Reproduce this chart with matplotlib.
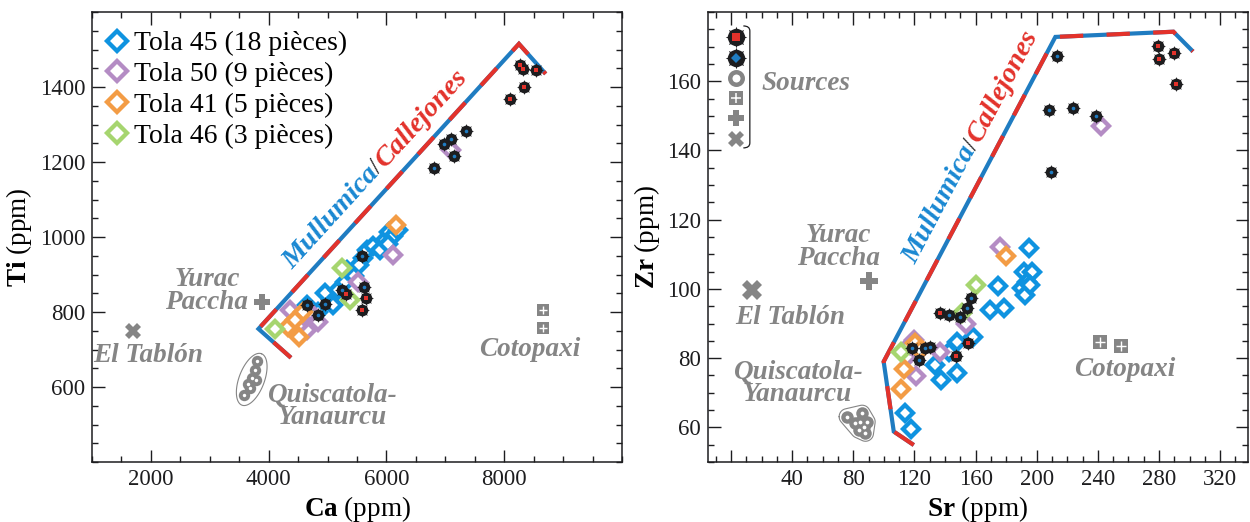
import numpy as np
import matplotlib
matplotlib.use("Agg")
import matplotlib.pyplot as plt
import matplotlib.transforms as mtransforms
from matplotlib.lines import Line2D
from matplotlib.legend_handler import HandlerTuple
from matplotlib.patches import PathPatch
from matplotlib.path import Path
from matplotlib.ticker import MultipleLocator

plt.rcParams['font.family'] = ['Liberation Serif', 'DejaVu Serif']
plt.rcParams['mathtext.fontset'] = 'custom'
plt.rcParams['mathtext.rm'] = 'Liberation Serif'
plt.rcParams['mathtext.bf'] = 'Liberation Serif:bold'
plt.rcParams['mathtext.it'] = 'Liberation Serif:italic'

# ---------------- Panel 1 : Ca vs Ti (ppm) ----------------
t45_ca = [4651, 4837, 4956, 5092, 5177, 5296, 5330, 5449, 5602, 5670, 5771, 5890, 5975, 6043, 6111, 6196, 6026, 5534]
t45_ti = [819, 800, 851, 819, 859, 880, 912, 896, 944, 965, 976, 965, 992, 1013, 1003, 1019, 981, 925]
t50_ca = [4362, 4566, 4837, 4651, 4498, 4702, 5517, 6111, 7096]
t50_ti = [805, 784, 773, 752, 763, 800, 880, 952, 1232]
t41_ca = [4328, 4515, 4583, 4447, 6162]
t41_ti = [760, 733, 800, 779, 1032]
t46_ca = [4107, 5245, 5381]
t46_ti = [755, 917, 832]
mul_ca = [6813, 6982, 7096, 7147, 7351, 5585, 5619, 5245, 4956, 4651, 4837]
mul_ti = [1183, 1247, 1261, 1217, 1283, 949, 867, 859, 821, 819, 792]
cal_ca = [8268, 8313, 8540, 8341, 8098, 5313, 5653, 5585]
cal_ti = [1459, 1447, 1445, 1399, 1367, 848, 837, 805]
quis_ca = [3802, 3768, 3717, 3649, 3785, 3581, 3683]
quis_ti = [669, 645, 624, 608, 619, 579, 597]
coto_ca = [8658, 8658]
coto_ti = [805, 757]
yurac_ca = [3887]
yurac_ti = [827]
tablon_ca = [1696]
tablon_ti = [749]
bound_ca = [4379, 3827, 8250, 8704]
bound_ti = [678, 755, 1515, 1435]

# ---------------- Panel 2 : Sr vs Zr (ppm) ----------------
t45_sr = [195.2, 191.5, 197.0, 193.7, 190.4, 192.6, 195.9, 174.8, 169.7, 178.4, 158.4, 147.9, 142.4, 133.7, 137.7, 147.9, 114.1, 117.9]
t45_zr = [111.8, 105.0, 105.0, 102.1, 100.2, 98.3, 101.2, 100.9, 93.9, 94.6, 86.0, 84.8, 81.9, 78.0, 73.7, 75.6, 64.1, 59.5]
t50_sr = [242.1, 176.3, 154.0, 137.0, 119.6, 121.3, 115.2, 123.9, 117.4]
t50_zr = [147.0, 112.1, 89.8, 81.9, 85.3, 74.9, 80.4, 82.4, 83.8]
t41_sr = [180.0, 113.4, 111.4, 120.7, 123.5]
t41_zr = [109.5, 76.8, 71.0, 84.3, 82.5]
t46_sr = [160.5, 111.5, 151.2]
t46_zr = [101.2, 81.9, 93.0]
mul_sr = [213.5, 207.8, 223.9, 238.7, 209.6, 157.3, 154.5, 149.6, 142.9, 118.5, 130.5, 127.2, 123.3]
mul_zr = [167.3, 151.7, 152.4, 150.0, 133.9, 97.3, 94.6, 91.8, 92.5, 82.9, 83.2, 83.0, 79.5]
cal_sr = [279.1, 280.0, 289.6, 291.4, 137.0, 154.9, 147.3]
cal_zr = [170.3, 166.5, 168.1, 159.2, 93.0, 84.3, 80.6]
quis_sr = [76.0, 85.8, 86.9, 83.6, 89.1, 84.7, 88.0, 81.4]
quis_zr = [63.1, 64.1, 60.2, 59.2, 61.6, 61.6, 58.3, 61.2]
coto_sr = [241.3, 255.2]
coto_zr = [84.8, 83.4]
yurac_sr = [90.6]
yurac_zr = [102.2]
tablon_sr = [13.9]
tablon_zr = [99.6]
bound_sr = [119.6, 106.5, 99.9, 212.2, 289.4, 302.2]
bound_zr = [54.9, 58.8, 79.0, 172.8, 174.3, 168.6]

legend_labels = ['Tola 45 (18 pièces)', 'Tola 50 (9 pièces)', 'Tola 41 (5 pièces)', 'Tola 46 (3 pièces)']

# ---------------- styles ----------------
BLUE45 = '#0f93e0'
PURP = '#b48cc4'
ORNG = '#f39c45'
GRN = '#a6d56f'
GRAY = '#858585'
INK = '#1d1d1f'
LRED = '#e3322b'
LBLUE = '#1f7cc1'
TBLUE = '#1a88d2'

fig = plt.figure(figsize=(12.5, 5.22), dpi=100)
ax1 = fig.add_axes([92 / 1250, 60 / 522, 530 / 1250, 450 / 522])
ax2 = fig.add_axes([707.7 / 1250, 60 / 522, 540.3 / 1250, 450 / 522])

ax1.set_xlim(1000, 10000)
ax1.set_ylim(400, 1600)
ax2.set_xlim(-15.2, 338.2)
ax2.set_ylim(50, 180)


def style(ax):
    for s in ax.spines.values():
        s.set_linewidth(1.1)
        s.set_color(INK)
    ax.tick_params(which='both', direction='in', top=True, right=True,
                   colors=INK, labelsize=16.5, width=1.0)
    ax.tick_params(which='major', length=9, pad=5)
    ax.tick_params(which='minor', length=4.5)


style(ax1)
style(ax2)
ax1.set_xticks([2000, 4000, 6000, 8000])
ax1.xaxis.set_minor_locator(MultipleLocator(500))
ax1.set_yticks([600, 800, 1000, 1200, 1400])
ax1.yaxis.set_minor_locator(MultipleLocator(50))
ax2.set_xticks([0, 40, 80, 120, 160, 200, 240, 280, 320])
ax2.set_xticklabels(['', '40', '80', '120', '160', '200', '240', '280', '320'])
ax2.xaxis.set_minor_locator(MultipleLocator(10))
ax2.set_yticks([60, 80, 100, 120, 140, 160])
ax2.yaxis.set_minor_locator(MultipleLocator(5))

ax1.set_xlabel(r'$\mathbf{Ca}$ (ppm)', fontsize=19.5, labelpad=3)
ax1.set_ylabel(r'$\mathbf{Ti}$ (ppm)', fontsize=19.5, labelpad=4)
ax2.set_xlabel(r'$\mathbf{Sr}$ (ppm)', fontsize=19.5, labelpad=3)
ax2.set_ylabel(r'$\mathbf{Zr}$ (ppm)', fontsize=19.5, labelpad=3)


def boundary(ax, x, y):
    ax.plot(x, y, color=LBLUE, lw=3.0, solid_capstyle='butt', solid_joinstyle='miter', zorder=2)
    ax.plot(x, y, color=LRED, lw=3.0, ls=(0, (5.6, 5.6)), dash_capstyle='butt',
            dash_joinstyle='miter', zorder=2)


def diamonds(ax, x, y, color, label):
    return ax.plot(x, y, ls='none', marker='D', ms=8.3, mfc='white', mec=color,
                   mew=3.1, label=label, zorder=3)[0]


def gears(ax, x, y, cc, cm):
    ax.plot(x, y, ls='none', marker='o', ms=8.4, color=INK, mew=0, zorder=4)
    ax.plot(x, y, ls='none', marker=(8, 1, 0), ms=10.8, color=INK, mew=0, zorder=4)
    ax.plot(x, y, ls='none', marker=cm, ms=2.6, color=cc, mew=0, zorder=5)


def quis(ax, x, y, ms):
    ax.plot(x, y, ls='none', marker='o', ms=ms, color=GRAY, mew=0, zorder=3)
    ax.plot(x, y, ls='none', marker='o', ms=ms * 0.3, color='white', mew=0, zorder=3)


def coto(ax, x, y, ms):
    ax.plot(x, y, ls='none', marker='s', ms=ms, color=GRAY, mew=0, zorder=3)
    ax.plot(x, y, ls='none', marker='+', ms=ms * 0.75, mec='white', mew=1.0, zorder=3)


def convex_hull(P):
    P = sorted(map(tuple, P))

    def cross(o, a, b):
        return (a[0] - o[0]) * (b[1] - o[1]) - (a[1] - o[1]) * (b[0] - o[0])
    lower = []
    for p in P:
        while len(lower) >= 2 and cross(lower[-2], lower[-1], p) <= 0:
            lower.pop()
        lower.append(p)
    upper = []
    for p in reversed(P):
        while len(upper) >= 2 and cross(upper[-2], upper[-1], p) <= 0:
            upper.pop()
        upper.append(p)
    return np.array(lower[:-1] + upper[:-1])


def outline(ax, x, y, pad_px, mode):
    pts = ax.transData.transform(np.column_stack([x, y]))
    if mode == 'ellipse':
        c = pts.mean(0)
        d = pts - c
        w, v = np.linalg.eigh(d.T @ d)
        major, minor = v[:, 1], v[:, 0]
        a = np.abs(d @ major).max() + pad_px
        b = np.abs(d @ minor).max() + pad_px
        th = np.linspace(0, 2 * np.pi, 120)
        curve = c + np.outer(a * np.cos(th), major) + np.outer(b * np.sin(th), minor)
    else:
        ang = np.linspace(0, 2 * np.pi, 36, endpoint=False)
        ring = np.column_stack([np.cos(ang), np.sin(ang)]) * pad_px
        cloud = (pts[:, None, :] + ring[None]).reshape(-1, 2)
        h = convex_hull(cloud)
        curve = np.vstack([h, h[:1]])
    data = ax.transData.inverted().transform(curve)
    ax.plot(data[:, 0], data[:, 1], color=GRAY, lw=0.8, zorder=2)


def boundary_label(ax, p0, p1, along_px, off_px, size):
    r = fig.canvas.get_renderer()
    d0 = ax.transData.transform(p0)
    d1 = ax.transData.transform(p1)
    u = (d1 - d0) / np.hypot(*(d1 - d0))
    n = np.array([-u[1], u[0]])
    ang = np.degrees(np.arctan2(u[1], u[0]))
    pos = d0 + u * along_px + n * off_px
    parts = [('Mullumica', TBLUE, 'bold', 'italic', size),
             ('/', INK, 'normal', 'normal', size * 0.9),
             ('Callejones', LRED, 'bold', 'italic', size)]
    for s, c, w, st, fs in parts:
        t = ax.text(pos[0], pos[1], s, transform=mtransforms.IdentityTransform(),
                    color=c, fontsize=fs, fontweight=w, fontstyle=st, rotation=0,
                    rotation_mode='anchor', ha='left', va='baseline', zorder=6)
        wpx = t.get_window_extent(r).width
        t.set_rotation(ang)
        pos = pos + u * wpx


def src_label(ax, x, y, s):
    ax.text(x, y, s, color=GRAY, fontsize=19.5, fontweight='bold', fontstyle='italic',
            ha='center', va='center', linespacing=0.88, zorder=6)


# ---------------- Panel 1 drawing ----------------
boundary(ax1, bound_ca, bound_ti)
h45 = diamonds(ax1, t45_ca, t45_ti, BLUE45, legend_labels[0])
h50 = diamonds(ax1, t50_ca, t50_ti, PURP, legend_labels[1])
h41 = diamonds(ax1, t41_ca, t41_ti, ORNG, legend_labels[2])
h46 = diamonds(ax1, t46_ca, t46_ti, GRN, legend_labels[3])
gears(ax1, mul_ca, mul_ti, LBLUE, 'o')
gears(ax1, cal_ca, cal_ti, LRED, 's')
quis(ax1, quis_ca, quis_ti, 8.2)
outline(ax1, quis_ca, quis_ti, 8.5, 'ellipse')
coto(ax1, coto_ca, coto_ti, 8.5)
ax1.plot(yurac_ca, yurac_ti, ls='none', marker='P', ms=11, color=GRAY, mew=0, zorder=3)
ax1.plot(tablon_ca, tablon_ti, ls='none', marker='X', ms=11, color=GRAY, mew=0, zorder=3)

src_label(ax1, 2953, 856, 'Yurac\nPaccha')
src_label(ax1, 1951, 683, 'El Tablón')
src_label(ax1, 5075, 549, 'Quiscatola-\nYanaurcu')
src_label(ax1, 8437, 699, 'Cotopaxi')
boundary_label(ax1, (bound_ca[1], bound_ti[1]), (bound_ca[2], bound_ti[2]), 66, 15, 20.5)

ax1.legend(handles=[h45, h50, h41, h46], loc='upper left', bbox_to_anchor=(0.021, 0.958),
           frameon=False, fontsize=20, handlelength=1.0, handletextpad=0.1,
           labelspacing=0.19, borderpad=0, borderaxespad=0, numpoints=1, markerscale=1.25)

# ---------------- Panel 2 drawing ----------------
boundary(ax2, bound_sr, bound_zr)
diamonds(ax2, t45_sr, t45_zr, BLUE45, legend_labels[0])
diamonds(ax2, t50_sr, t50_zr, PURP, legend_labels[1])
diamonds(ax2, t41_sr, t41_zr, ORNG, legend_labels[2])
diamonds(ax2, t46_sr, t46_zr, GRN, legend_labels[3])
gears(ax2, mul_sr, mul_zr, LBLUE, 'o')
gears(ax2, cal_sr, cal_zr, LRED, 's')
quis(ax2, quis_sr, quis_zr, 9.0)
outline(ax2, quis_sr, quis_zr, 8.0, 'hull')
coto(ax2, coto_sr, coto_zr, 10)
ax2.plot(yurac_sr, yurac_zr, ls='none', marker='P', ms=13, color=GRAY, mew=0, zorder=3)
ax2.plot(tablon_sr, tablon_zr, ls='none', marker='X', ms=14, color=GRAY, mew=0, zorder=3)

src_label(ax2, 70.3, 112.1, 'Yurac\nPaccha')
src_label(ax2, 38.9, 91.6, 'El Tablón')
src_label(ax2, 43.5, 72.8, 'Quiscatola-\nYanaurcu')
src_label(ax2, 257.3, 76.6, 'Cotopaxi')
boundary_label(ax2, (bound_sr[2], bound_zr[2]), (bound_sr[3], bound_zr[3]), 100, 17, 20.5)

# sources legend
def L(**kw):
    return Line2D([], [], ls='none', **kw)


src_handles = [
    (L(marker='o', ms=12.5, color=INK, mew=0), L(marker=(8, 1, 0), ms=15.5, color=INK, mew=0),
     L(marker='s', ms=6.0, color=LRED, mew=0)),
    (L(marker='o', ms=12.5, color=INK, mew=0), L(marker=(8, 1, 0), ms=15.5, color=INK, mew=0),
     L(marker='D', ms=5.4, color=LBLUE, mew=0)),
    L(marker='o', ms=9, mfc='white', mec=GRAY, mew=3.2),
    (L(marker='s', ms=9.5, color=GRAY, mew=0), L(marker='+', ms=7, mec='white', mew=1.1)),
    L(marker='P', ms=12, color=GRAY, mew=0),
    L(marker='X', ms=12, color=GRAY, mew=0),
]
ax2.legend(src_handles, [''] * 6, loc='upper left', bbox_to_anchor=(0.037, 0.957), frameon=False,
           fontsize=12.3, handlelength=1.0, handletextpad=0, labelspacing=0.25, borderpad=0,
           borderaxespad=0, numpoints=1, handler_map={tuple: HandlerTuple(ndivide=1)})

# bracket and "Sources"
bx, bh = 0.078, 0.011
br = Path([(bx - 0.012, 0.969), (bx, 0.969), (bx, 0.969 - bh), (bx, 0.698 + bh),
           (bx, 0.698), (bx - 0.012, 0.698)],
          [Path.MOVETO, Path.CURVE3, Path.CURVE3, Path.LINETO, Path.CURVE3, Path.CURVE3])
ax2.add_patch(PathPatch(br, transform=ax2.transAxes, fill=False, lw=0.9, ec=INK, zorder=6))
ax2.text(0.182, 0.842, 'Sources', transform=ax2.transAxes, color=GRAY, fontsize=19.5,
         fontweight='bold', fontstyle='italic', ha='center', va='center')

fig.savefig('out.png', dpi=100)
